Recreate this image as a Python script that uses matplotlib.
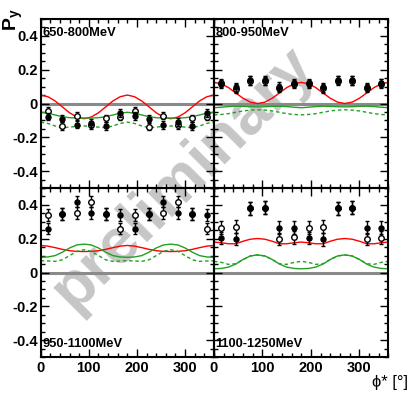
"""Beam-recoil polarisation P_y vs phi* in four photon-energy bins (2x2 panels)."""

import matplotlib
matplotlib.use("Agg")
import matplotlib.pyplot as plt
from matplotlib.ticker import FuncFormatter, MultipleLocator

plt.rcParams["font.family"] = ["Liberation Sans", "DejaVu Sans"]
plt.rcParams["mathtext.fontset"] = "custom"
plt.rcParams["mathtext.rm"] = "Liberation Sans"
plt.rcParams["mathtext.bf"] = "Liberation Sans:bold"
plt.rcParams["axes.unicode_minus"] = False

# data points (phi* bin centres) and model curves (sampled every 15 deg)
phi = [15, 45, 75, 105, 135, 165, 195, 225, 255, 285, 315, 345]
phi_curve = [0, 15, 30, 45, 60, 75, 90, 105, 120, 135, 150, 165, 180,
             195, 210, 225, 240, 255, 270, 285, 300, 315, 330, 345, 360]

bins = ["650-800MeV", "800-950MeV", "950-1100MeV", "1100-1250MeV"]
label_at_top = [True, True, False, False]

filled = [
    [-0.078, -0.090, -0.125, -0.115, -0.133, -0.055, -0.075, -0.090, -0.128, -0.110, -0.133, -0.055],
    [0.115, 0.095, 0.137, 0.137, 0.100, 0.120, 0.115, 0.095, 0.140, 0.137, 0.097, 0.120],
    [0.260, 0.345, 0.420, 0.350, 0.345, 0.340, 0.260, 0.345, 0.420, 0.350, 0.345, 0.340],
    [0.204, 0.198, 0.380, 0.384, 0.266, 0.264, 0.204, 0.196, 0.380, 0.384, 0.266, 0.264],
]
opened = [
    [-0.045, -0.133, -0.075, -0.130, -0.088, -0.078, -0.045, -0.137, -0.072, -0.130, -0.088, -0.078],
    [0.120, 0.088, 0.135, 0.133, 0.093, 0.115, 0.120, 0.090, 0.135, 0.135, 0.092, 0.118],
    [0.340, 0.345, 0.350, 0.420, 0.345, 0.260, 0.340, 0.345, 0.350, 0.420, 0.345, 0.260],
    [0.264, 0.270, 0.380, 0.384, 0.198, 0.208, 0.266, 0.270, 0.380, 0.384, 0.198, 0.206],
]
errors = [0.022, 0.025, 0.035, 0.038]

red = [
    [0.050, 0.040, 0.015, -0.020, -0.055, -0.080, -0.090, -0.080, -0.055, -0.020, 0.015, 0.040, 0.050,
     0.040, 0.015, -0.020, -0.055, -0.080, -0.090, -0.080, -0.055, -0.020, 0.015, 0.040, 0.050],
    [0.125, 0.116, 0.094, 0.062, 0.031, 0.008, 0.000, 0.008, 0.031, 0.062, 0.094, 0.116, 0.125,
     0.116, 0.094, 0.062, 0.031, 0.008, 0.000, 0.008, 0.031, 0.062, 0.094, 0.116, 0.125],
    [0.160, 0.156, 0.147, 0.137, 0.129, 0.125, 0.124, 0.125, 0.129, 0.137, 0.147, 0.156, 0.160,
     0.156, 0.147, 0.137, 0.129, 0.125, 0.124, 0.125, 0.129, 0.137, 0.147, 0.156, 0.160],
    [0.180, 0.176, 0.170, 0.170, 0.185, 0.197, 0.201, 0.197, 0.185, 0.170, 0.170, 0.176, 0.180,
     0.176, 0.170, 0.170, 0.185, 0.197, 0.201, 0.197, 0.185, 0.170, 0.170, 0.176, 0.180],
]
green = [
    [-0.052, -0.057, -0.068, -0.078, -0.084, -0.086, -0.086, -0.086, -0.084, -0.078, -0.068, -0.057, -0.052,
     -0.057, -0.068, -0.078, -0.084, -0.086, -0.086, -0.086, -0.084, -0.078, -0.068, -0.057, -0.052],
    [-0.025, -0.022, -0.018, -0.016, -0.017, -0.019, -0.020, -0.019, -0.017, -0.016, -0.018, -0.022, -0.025,
     -0.022, -0.018, -0.016, -0.017, -0.019, -0.020, -0.019, -0.017, -0.016, -0.018, -0.022, -0.025],
    [0.090, 0.092, 0.100, 0.120, 0.145, 0.163, 0.168, 0.163, 0.145, 0.120, 0.100, 0.092, 0.090,
     0.092, 0.100, 0.120, 0.145, 0.163, 0.168, 0.163, 0.145, 0.120, 0.100, 0.092, 0.090],
    [0.022, 0.024, 0.032, 0.050, 0.077, 0.098, 0.104, 0.098, 0.077, 0.050, 0.032, 0.024, 0.022,
     0.024, 0.032, 0.050, 0.077, 0.098, 0.104, 0.098, 0.077, 0.050, 0.032, 0.024, 0.022],
]
green_dash = [
    [-0.110, -0.118, -0.133, -0.143, -0.140, -0.135, -0.133, -0.135, -0.140, -0.143, -0.133, -0.118, -0.110,
     -0.118, -0.133, -0.143, -0.140, -0.135, -0.133, -0.135, -0.140, -0.143, -0.133, -0.118, -0.110],
    [-0.067, -0.065, -0.060, -0.052, -0.044, -0.039, -0.037, -0.039, -0.044, -0.052, -0.060, -0.065, -0.067,
     -0.065, -0.060, -0.052, -0.044, -0.039, -0.037, -0.039, -0.044, -0.052, -0.060, -0.065, -0.067],
    [0.070, 0.068, 0.066, 0.075, 0.100, 0.125, 0.135, 0.125, 0.100, 0.075, 0.066, 0.068, 0.070,
     0.068, 0.066, 0.075, 0.100, 0.125, 0.135, 0.125, 0.100, 0.075, 0.066, 0.068, 0.070],
    [0.066, 0.060, 0.048, 0.052, 0.077, 0.098, 0.104, 0.098, 0.077, 0.052, 0.048, 0.060, 0.066,
     0.060, 0.048, 0.052, 0.077, 0.098, 0.104, 0.098, 0.077, 0.052, 0.048, 0.060, 0.066],
]

W, H = 410, 396
col_px = [(40.7, 214.0), (214.0, 388.5)]
row_px = [(19.0, 188.0), (188.0, 357.0)]
GREEN = "#22a022"


def fmt_tick(v, _pos):
    if abs(v) < 1e-9:
        return "0"
    return f"{v:g}"


fig = plt.figure(figsize=(W / 100, H / 100), dpi=100)

for i, name in enumerate(bins):
    r, c = divmod(i, 2)
    x0, x1 = col_px[c]
    y0, y1 = row_px[r]
    ax = fig.add_axes([x0 / W, 1 - y1 / H, (x1 - x0) / W, (y1 - y0) / H])
    ax.patch.set_alpha(0)

    ax.axhline(0, color="#8a8a8a", lw=2.2, zorder=1)
    ax.plot(phi_curve, red[i], color="red", lw=1.0, zorder=2)
    ax.plot(phi_curve, green[i], color=GREEN, lw=1.0, zorder=2)
    ax.plot(phi_curve, green_dash[i], color=GREEN, lw=1.0, ls=(0, (2.5, 2)), zorder=2)

    ax.errorbar(phi, opened[i], yerr=errors[i], fmt="o", ms=4.0, mfc="white", mec="black",
                mew=1.0, ecolor="black", elinewidth=1.0, capsize=1.3, capthick=1.0, zorder=3)
    ax.errorbar(phi, filled[i], yerr=errors[i], fmt="o", ms=3.6, mfc="black", mec="black",
                ecolor="black", elinewidth=1.0, capsize=1.3, capthick=1.0, zorder=4)

    ax.set_xlim(0, 360)
    ax.set_ylim(-0.5, 0.5)
    ax.xaxis.set_major_locator(MultipleLocator(100))
    ax.xaxis.set_minor_locator(MultipleLocator(20))
    ax.yaxis.set_major_locator(MultipleLocator(0.2))
    ax.yaxis.set_minor_locator(MultipleLocator(0.05))
    ax.yaxis.set_major_formatter(FuncFormatter(fmt_tick))
    ax.tick_params(which="both", direction="in", top=True, right=True, width=1.0)
    ax.tick_params(which="major", length=6)
    ax.tick_params(which="minor", length=3)
    ax.tick_params(axis="y", labelsize=10.5, pad=2, labelleft=(c == 0))
    ax.tick_params(axis="x", labelsize=10.5, pad=3, labelbottom=(r == 1))
    for lab in ax.get_xticklabels() + ax.get_yticklabels():
        lab.set_fontweight("bold")
    for sp in ax.spines.values():
        sp.set_linewidth(1.5)

    if label_at_top[i]:
        ax.text(0.008, 0.955, name, transform=ax.transAxes, ha="left", va="top",
                fontsize=9.3, fontweight="bold")
    else:
        ax.text(0.008, 0.04, name, transform=ax.transAxes, ha="left", va="bottom",
                fontsize=9.3, fontweight="bold")

fig.text(13 / W, 1 - 8 / H, r"$\mathbf{P_y}$", rotation=90, ha="center", va="top", fontsize=14)
fig.text(408 / W, 1 - 382 / H, "\u03d5* [°]", ha="right", va="center", fontsize=12)
fig.text(183 / W, 1 - 178 / H, "preliminary", rotation=45, ha="center", va="center",
         fontsize=46, fontweight="bold", color="#c6c6c6", zorder=-1)

fig.savefig("out.png", dpi=100)
